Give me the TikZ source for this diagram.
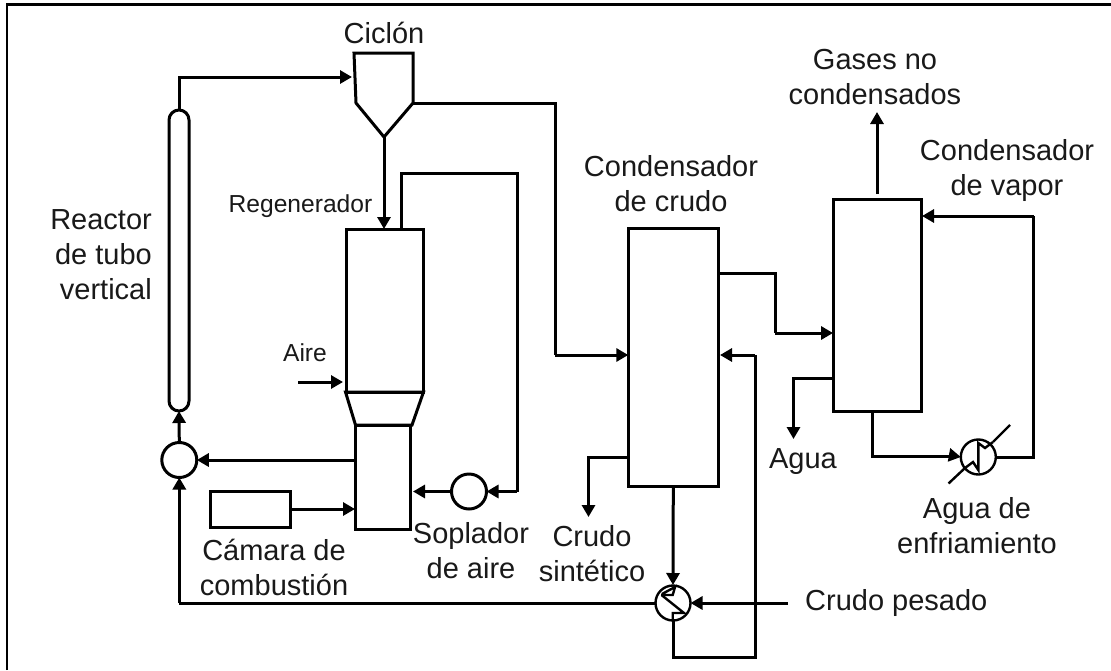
\documentclass[tikz,border=0pt]{standalone}
\usepackage{fontspec}
\setmainfont{Liberation Sans}
\usetikzlibrary{arrows.meta,calc}
\tikzset{
  x=1pt,y=-1pt,
  lin/.style={draw=black,line width=3pt,line join=miter},
  thin lin/.style={draw=black,line width=2.4pt},
  flow/.style={lin,-{Triangle[length=12pt,width=13pt]}},
  lab/.style={font=\fontsize{29}{35}\selectfont,align=center,inner sep=0pt,text=black!90},
  smalllab/.style={font=\fontsize{24.6}{30}\selectfont,align=center,inner sep=0pt,text=black!90},
  box/.style={lin,rectangle,inner sep=0pt,outer sep=0pt},
  round unit/.style={lin,circle,inner sep=0pt,outer sep=0pt,minimum size=35pt},
}
\begin{document}
\begin{tikzpicture}
\useasboundingbox (0,0) rectangle (1111,670);
\fill[white] (0,0) rectangle (1111,670);
% frame
\draw[draw=black,line width=2.2pt] (7,670) -- (7,4.5) -- (1111,4.5);
% labels
\node[lab] (lcic) at (384,33) {Ciclón};
\node[lab,align=right,anchor=east] (lrea) at (152,255) {Reactor\\de tubo\\vertical};
\node[smalllab] (lreg) at (300.5,206) {Regenerador};
\node[smalllab] (lair) at (305,353) {Aire};
\node[lab] (lcam) at (274,567) {Cámara de\\combustión};
\node[lab] (lsop) at (471,551) {Soplador\\de aire};
\node[lab] (lsin) at (592,554) {Crudo\\sintético};
\node[lab] (lcc) at (671,184) {Condensador\\de crudo};
\node[lab] (lgas) at (875,77) {Gases no\\condensados};
\node[lab] (lcv) at (1007,170) {Condensador\\de vapor};
\node[lab] (lagu) at (803,462) {Agua};
\node[lab] (lenf) at (977,526) {Agua de\\enfriamiento};
\node[lab,anchor=west] (lpes) at (805,603) {Crudo pesado};
% equipment
\coordinate (cycT) at (384,137);
\draw[lin] (354,53) -- (413,53) -- (413,103) -- (cycT) -- (356,103) -- cycle;
\draw[lin] (169,120) arc[start angle=180,end angle=360,radius=10] -- (189,401) arc[start angle=0,end angle=180,radius=10] -- cycle;
\coordinate (riserT) at (179,110);
\coordinate (riserB) at (179,411);
\node[box,minimum width=77pt,minimum height=163pt] (reg) at (384.5,310.5) {};
\node[box,minimum width=55pt,minimum height=104pt] (bot) at (383.2,477) {};
\draw[lin] (345.5,392) -- (423.5,392) -- (412,425) -- (355.5,425) -- cycle;
\node[round unit] (mix) at (179.3,460) {};
\node[round unit] (blow) at (469,491.5) {};
\node[box,minimum width=80pt,minimum height=36pt] (cam) at (250.3,509) {};
\node[box,minimum width=90pt,minimum height=258pt] (cc) at (673.3,357) {};
\node[box,minimum width=88.5pt,minimum height=212pt] (vc) at (877.3,305) {};
\node[round unit,line width=2.4pt] (hxa) at (673,603) {};
\node[round unit,line width=2.4pt] (hxb) at (978.3,457) {};
% free ends
\coordinate (airIn) at (298,382);
\coordinate (gasTop) at (877,194);
\coordinate (gasEnd) at (877,112);
\coordinate (heavy) at (788,603);
\coordinate (cwA) at (948.5,483.5);
\coordinate (cwB) at (1010,425);
% connectors
\draw[flow] (riserT) -- (179,77) -- (352,77);
\draw[flow] (cycT) -- (384,229);
\draw[lin] (413,103) -- (555,103) -- (555,355);
\draw[flow] (555,355) -- (cc.west |- 0,355);
\draw[lin] (401.5,229) -- (401.5,173) -- (517,173) -- (517,491.5);
\draw[flow] (517,491.5) -- (blow.east);
\draw[flow] (blow.west) -- (413,491.5);
\draw[flow] (airIn) -- (343,382);
\draw[flow] (cam.east) -- (355,509);
\draw[flow] (355,460) -- (mix.east);
\draw[flow] (mix.north) -- (riserB);
\draw[lin] (hxa.west) -- (179.3,603);
\draw[flow] (179.3,603) -- (mix.south);
\draw[lin] (718,273.5) -- (775,273.5) -- (775,333);
\draw[flow] (775,333) -- (vc.west |- 0,333);
\draw[flow] (833,378) -- (793.5,378) -- (793.5,439);
\draw[flow] (628,457) -- (588.5,457) -- (588.5,517);
\draw[flow] (cc.south) -- (673,585);
\draw[lin] (hxa.south) -- (673,657) -- (755,657) -- (755,355);
\draw[flow] (755,355) -- (720,355);
\draw[flow] (heavy) -- (hxa.east);
\draw[flow] (gasTop) -- (gasEnd);
\draw[lin] (872,411) -- (872,456.5) -- (958,456.5);
\draw[flow] (958,456.5) -- (hxb.west);
\draw[lin] (hxb.east) -- (1033.5,457) -- (1033.5,216);
\draw[flow] (1033.5,216) -- (922,216);
\draw[thin lin] (cwA) -- (965,468);
\draw[thin lin] (993,442) -- (cwB);
% exchanger zig-zags
\draw[thin lin] (662,594) -- (675,587) -- (672.7,595) -- (661,595);
\draw[thin lin] (661.5,595) -- (684,613) -- (672.7,613) -- (672.7,620);
\draw[thin lin] (965,468) -- (973,462) -- (978.3,470) -- (978.3,443) -- (985,448) -- (993,442);
\end{tikzpicture}
\end{document}
